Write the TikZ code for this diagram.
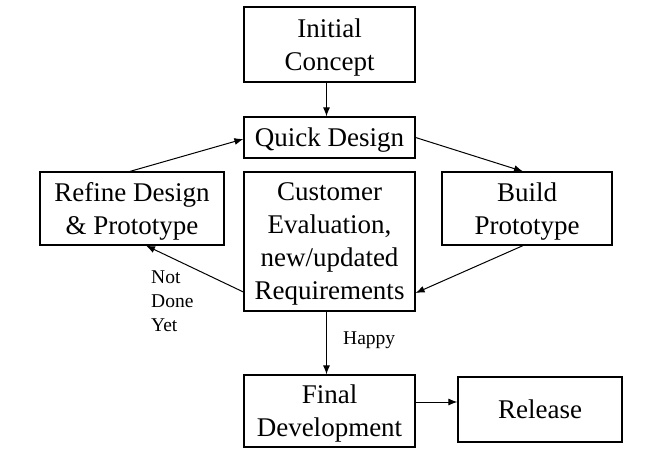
\documentclass[tikz,border=0pt]{standalone}
\usepackage{fontspec}
\setmainfont{Liberation Serif}
\usetikzlibrary{arrows.meta}

\begin{document}
\begin{tikzpicture}[x=1pt,y=-1pt]
      \useasboundingbox (0,0) rectangle (669,449);

      \begin{scope}[every node/.style={draw,line width=1.2pt,align=center,inner sep=0pt,
          text depth=0pt,font=\fontsize{27}{33}\selectfont}]
        \node[minimum width=171pt,minimum height=75pt]  (init)    at (329.5,44.5)  {Initial\\Concept};
        \node[minimum width=171pt,minimum height=41pt]  (quick)   at (329.5,137.5) {Quick Design};
        \node[minimum width=184pt,minimum height=73pt]  (refine)  at (132,208.5)   {Refine Design\\\& Prototype};
        \node[minimum width=171pt,minimum height=139pt] (cust)    at (329.5,241.5) {Customer\\Evaluation,\\new/updated\\Requirements};
        \node[minimum width=170pt,minimum height=73pt]  (build)   at (527,208.5)   {Build\\Prototype};
        \node[minimum width=171pt,minimum height=72pt]  (final)   at (329.5,411)   {Final\\Development};
        \node[minimum width=164pt,minimum height=65pt]  (release) at (540,409.5)   {Release};
      \end{scope}

      \begin{scope}[every node/.style={font=\fontsize{19.5}{24}\selectfont,align=left,inner sep=0pt}]
        \node[anchor=west] (notdone) at (151,301) {Not\\Done\\Yet};
        \node[anchor=west] (happy)   at (343,340) {Happy};
      \end{scope}

      \begin{scope}[every edge/.style={draw,line width=1pt,-{Latex[length=9pt,width=7pt]}}]
        \path ([xshift=-3pt]init.south) edge ([xshift=-3pt]quick.north);
        \path ([xshift=-2pt]refine.north) edge ([yshift=-1.5pt]quick.west);
        \path (quick.east) edge ([xshift=-4pt]build.north);
        \path ([xshift=-4pt]build.south) edge ([yshift=-51.5pt]cust.east);
        \path ([yshift=-50.5pt]cust.west) edge ([xshift=14pt]refine.south);
        \path ([xshift=-3pt]cust.south) edge ([xshift=-3pt]final.north);
        \path ([yshift=9pt]final.east) edge ([yshift=7.5pt]release.west);
      \end{scope}

    \end{tikzpicture}
\end{document}
